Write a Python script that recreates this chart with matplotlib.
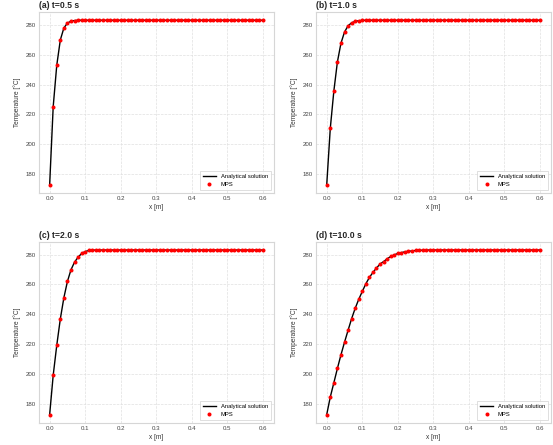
import numpy as np
import matplotlib
matplotlib.use("Agg")
import matplotlib.pyplot as plt

plt.rcParams['font.family'] = ['Liberation Sans', 'DejaVu Sans']

# positions along the rod, 0.01 m apart
x_m = np.linspace(0.0, 0.6, 61)

panel_labels = ["(a) t=0.5 s", "(b) t=1.0 s", "(c) t=2.0 s", "(d) t=10.0 s"]

# temperatures [°C] (analytical curve and MPS points coincide)
T_05 = [173.0, 225.3, 252.9, 269.8, 277.8, 281.1, 282.4, 282.8, 283.0, 283.0,
        283.0, 283.0, 283.0, 283.0, 283.0, 283.0, 283.0, 283.0, 283.0, 283.0,
        283.0, 283.0, 283.0, 283.0, 283.0, 283.0, 283.0, 283.0, 283.0, 283.0,
        283.0, 283.0, 283.0, 283.0, 283.0, 283.0, 283.0, 283.0, 283.0, 283.0,
        283.0, 283.0, 283.0, 283.0, 283.0, 283.0, 283.0, 283.0, 283.0, 283.0,
        283.0, 283.0, 283.0, 283.0, 283.0, 283.0, 283.0, 283.0, 283.0, 283.0,
        283.0]
T_10 = [173.0, 210.7, 235.6, 255.1, 267.6, 275.1, 279.3, 281.3, 282.2, 282.7,
        282.9, 283.0, 283.0, 283.0, 283.0, 283.0, 283.0, 283.0, 283.0, 283.0,
        283.0, 283.0, 283.0, 283.0, 283.0, 283.0, 283.0, 283.0, 283.0, 283.0,
        283.0, 283.0, 283.0, 283.0, 283.0, 283.0, 283.0, 283.0, 283.0, 283.0,
        283.0, 283.0, 283.0, 283.0, 283.0, 283.0, 283.0, 283.0, 283.0, 283.0,
        283.0, 283.0, 283.0, 283.0, 283.0, 283.0, 283.0, 283.0, 283.0, 283.0,
        283.0]
T_20 = [173.0, 199.3, 219.3, 236.9, 251.1, 262.0, 269.8, 274.9, 278.2, 280.7,
        282.0, 282.7, 282.9, 283.0, 283.0, 283.0, 283.0, 283.0, 283.0, 283.0,
        283.0, 283.0, 283.0, 283.0, 283.0, 283.0, 283.0, 283.0, 283.0, 283.0,
        283.0, 283.0, 283.0, 283.0, 283.0, 283.0, 283.0, 283.0, 283.0, 283.0,
        283.0, 283.0, 283.0, 283.0, 283.0, 283.0, 283.0, 283.0, 283.0, 283.0,
        283.0, 283.0, 283.0, 283.0, 283.0, 283.0, 283.0, 283.0, 283.0, 283.0,
        283.0]
T_100 = [173.0, 184.7, 194.2, 203.8, 212.9, 221.3, 229.3, 237.1, 244.0, 250.0,
         255.3, 260.4, 264.7, 268.0, 271.0, 273.6, 275.3, 277.1, 278.7, 279.8,
         280.7, 281.3, 281.8, 282.2, 282.4, 282.7, 282.8, 282.9, 283.0, 283.0,
         283.0, 283.0, 283.0, 283.0, 283.0, 283.0, 283.0, 283.0, 283.0, 283.0,
         283.0, 283.0, 283.0, 283.0, 283.0, 283.0, 283.0, 283.0, 283.0, 283.0,
         283.0, 283.0, 283.0, 283.0, 283.0, 283.0, 283.0, 283.0, 283.0, 283.0,
         283.0]

series = [T_05, T_10, T_20, T_100]

fig, axes = plt.subplots(2, 2, figsize=(5.53, 4.45), dpi=100)
plt.subplots_adjust(left=0.0705, right=0.9958, bottom=0.050, top=0.973,
                    wspace=0.181, hspace=0.27)

for ax, T, title in zip(axes.flat, series, panel_labels):
    ax.set_facecolor('white')
    ax.grid(True, linestyle='--', color='#e0e0e0', linewidth=0.5)
    ax.set_axisbelow(True)
    ax.plot(x_m, T, color='black', linewidth=1.0, label='Analytical solution', zorder=2)
    ax.plot(x_m, T, 'o', color='red', markersize=2.9, markeredgewidth=0,
            label='MPS', zorder=3)
    ax.set_title(title, loc='left', fontweight='bold', fontsize=6.2, pad=3,
                 color='#262626')
    ax.set_xlabel('x [m]', fontsize=4.7, labelpad=2, color='#333333')
    ax.set_ylabel('Temperature [°C]', fontsize=4.7, labelpad=3, color='#333333')
    ax.set_xticks([0.0, 0.1, 0.2, 0.3, 0.4, 0.5, 0.6])
    ax.set_yticks([180, 200, 220, 240, 260, 280])
    ax.tick_params(labelsize=4.4, length=0, pad=2.5, colors='#444444')
    for s in ax.spines.values():
        s.set_color('#d6d6d6')
        s.set_linewidth(0.8)
    leg = ax.legend(loc='lower right', fontsize=4.2, frameon=True, fancybox=False,
                    edgecolor='#d0d0d0', borderpad=0.5, handlelength=2.2)
    leg.get_frame().set_linewidth(0.6)

fig.savefig('out.png', dpi=100, facecolor='white')
